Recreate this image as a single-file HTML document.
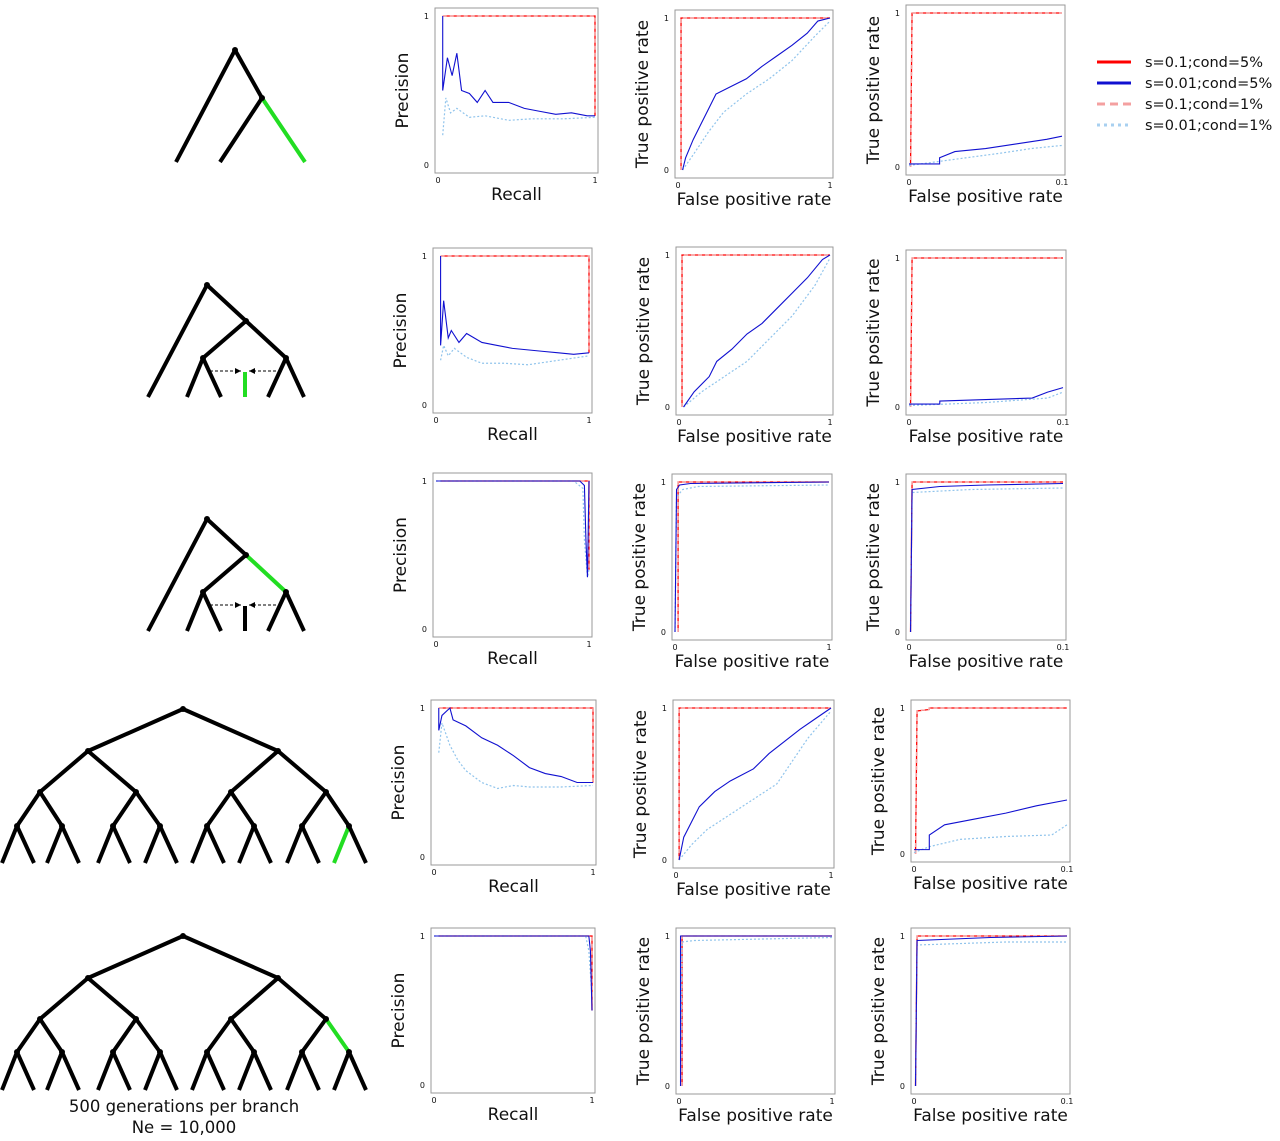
<!DOCTYPE html>
<html><head><meta charset="utf-8"><style>
body{margin:0;background:#fff;}
svg text{font-family:"DejaVu Sans","Liberation Sans",sans-serif;fill:#111;}
</style></head><body>
<svg id="fig" width="1280" height="1136" xmlns="http://www.w3.org/2000/svg">
<g id="trees" stroke="#000" stroke-width="4" fill="none"></g>
<g id="plots"></g>
<g id="legend">
 <g><line x1="1097" y1="62" x2="1131" y2="62" stroke="#ff0000" stroke-width="3"/><text x="1145" y="67" font-size="14.5">s=0.1;cond=5%</text></g>
 <g><line x1="1097" y1="83" x2="1131" y2="83" stroke="#1010d0" stroke-width="3"/><text x="1145" y="88" font-size="14.5">s=0.01;cond=5%</text></g>
 <g><line x1="1097" y1="104" x2="1131" y2="104" stroke="#f4a0a0" stroke-width="3" stroke-dasharray="8,5"/><text x="1145" y="109" font-size="14.5">s=0.1;cond=1%</text></g>
 <g><line x1="1097" y1="125" x2="1131" y2="125" stroke="#a8d0f0" stroke-width="3" stroke-dasharray="3,4"/><text x="1145" y="130" font-size="14.5">s=0.01;cond=1%</text></g>
</g>
<text x="184" y="1112" font-size="16.5" text-anchor="middle">500 generations per branch</text>
<text x="184" y="1133" font-size="16.5" text-anchor="middle">Ne = 10,000</text>
</svg>
<script>
// ---- data (per row) ----
const row1PrBlue=[[0.03,1],[0.03,0.5],[0.06,0.72],[0.09,0.6],[0.12,0.75],[0.15,0.5],[0.2,0.48],[0.25,0.42],[0.3,0.5],[0.35,0.42],[0.45,0.42],[0.55,0.38],[0.65,0.36],[0.75,0.34],[0.85,0.35],[0.95,0.33],[1,0.33]];
const row1PrLight=[[0.03,0.2],[0.05,0.45],[0.08,0.35],[0.12,0.38],[0.2,0.32],[0.3,0.33],[0.45,0.3],[0.6,0.31],[0.8,0.31],[1,0.32]];
const row1RocBlue=[[0.03,0],[0.05,0.08],[0.1,0.2],[0.15,0.3],[0.2,0.4],[0.25,0.5],[0.35,0.55],[0.45,0.6],[0.55,0.68],[0.65,0.75],[0.75,0.82],[0.85,0.9],[0.92,0.98],[1,1]];
const row1RocLight=[[0.03,0],[0.1,0.1],[0.2,0.25],[0.3,0.38],[0.45,0.5],[0.6,0.6],[0.75,0.72],[0.9,0.88],[1,0.98]];
const row1ZBlue=[[0,0.02],[0.02,0.02],[0.02,0.06],[0.03,0.1],[0.05,0.12],[0.07,0.15],[0.09,0.18],[0.1,0.2]];
const row1ZLight=[[0,0.01],[0.03,0.05],[0.06,0.09],[0.08,0.12],[0.1,0.14]];
const row2PrBlue=[[0.03,1],[0.03,0.4],[0.05,0.7],[0.08,0.45],[0.1,0.5],[0.15,0.42],[0.2,0.48],[0.3,0.42],[0.4,0.4],[0.5,0.38],[0.6,0.37],[0.7,0.36],[0.8,0.35],[0.9,0.34],[1,0.35]];
const row2PrLight=[[0.03,0.3],[0.05,0.4],[0.08,0.33],[0.12,0.38],[0.2,0.32],[0.3,0.28],[0.45,0.28],[0.6,0.27],[0.8,0.3],[1,0.33]];
const row2RocBlue=[[0.03,0],[0.1,0.1],[0.2,0.2],[0.25,0.3],[0.35,0.38],[0.45,0.48],[0.55,0.55],[0.65,0.65],[0.75,0.75],[0.85,0.85],[0.95,0.97],[1,1]];
const row2RocLight=[[0.03,0],[0.15,0.1],[0.3,0.2],[0.45,0.3],[0.6,0.45],[0.75,0.6],[0.9,0.8],[1,0.98]];
const row2ZBlue=[[0,0.02],[0.02,0.02],[0.02,0.04],[0.08,0.06],[0.09,0.1],[0.1,0.13]];
const row2ZLight=[[0,0.01],[0.05,0.03],[0.09,0.06],[0.1,0.1]];
const row3PrBlue=[[0,1],[0.94,1],[0.97,0.97],[0.98,0.6],[0.99,0.35],[1,1]];
const row3PrLight=[[0,1],[0.9,1],[0.96,0.95],[0.97,0.6],[0.99,0.35],[1,0.4]];
const row3RocBlue=[[0,0],[0.01,0.95],[0.03,0.98],[0.1,0.99],[1,1]];
const row3RocLight=[[0,0],[0.01,0.9],[0.05,0.95],[0.15,0.97],[1,0.98]];
const row3ZBlue=[[0.001,0],[0.002,0.95],[0.02,0.97],[0.05,0.98],[0.1,0.99]];
const row3ZLight=[[0.001,0],[0.002,0.93],[0.04,0.95],[0.1,0.96]];
const row4PrBlue=[[0.03,1],[0.03,0.85],[0.05,0.95],[0.1,1],[0.12,0.92],[0.2,0.88],[0.3,0.8],[0.4,0.75],[0.5,0.68],[0.6,0.6],[0.7,0.56],[0.8,0.54],[0.9,0.5],[1,0.5]];
const row4PrLight=[[0.03,0.7],[0.05,0.9],[0.1,0.75],[0.15,0.65],[0.2,0.58],[0.3,0.5],[0.4,0.46],[0.5,0.48],[0.6,0.47],[0.8,0.47],[1,0.48]];
const row4RocBlue=[[0.02,0],[0.05,0.15],[0.1,0.25],[0.15,0.35],[0.25,0.45],[0.35,0.52],[0.5,0.6],[0.6,0.7],[0.7,0.78],[0.8,0.86],[0.9,0.93],[1,1]];
const row4RocLight=[[0.02,0],[0.1,0.1],[0.2,0.2],[0.35,0.3],[0.5,0.4],[0.65,0.5],[0.75,0.65],[0.85,0.8],[1,0.98]];
const row4ZBlue=[[0,0.03],[0.01,0.03],[0.01,0.13],[0.02,0.2],[0.04,0.24],[0.06,0.28],[0.08,0.33],[0.1,0.37]];
const row4ZLight=[[0,0.01],[0.01,0.05],[0.03,0.1],[0.06,0.12],[0.09,0.13],[0.1,0.2]];
const row5PrBlue=[[0,1],[0.98,1],[0.99,0.9],[1,0.5]];
const row5PrLight=[[0,1],[0.96,1],[0.98,0.9],[1,0.6]];
const row5RocBlue=[[0.01,0],[0.01,1],[1,1]];
const row5RocLight=[[0.01,0],[0.02,0.96],[0.1,0.97],[1,0.99]];
const row5ZBlue=[[0.001,0],[0.002,0.97],[0.05,0.99],[0.1,1]];
const row5ZLight=[[0.001,0],[0.002,0.94],[0.06,0.96],[0.1,0.96]];
const prRedEnd=[0.33,0.35,0.4,0.5,0.5];
const rowsPr=[[row1PrBlue,row1PrLight],[row2PrBlue,row2PrLight],[row3PrBlue,row3PrLight],[row4PrBlue,row4PrLight],[row5PrBlue,row5PrLight]];
const rowsRoc=[[row1RocBlue,row1RocLight],[row2RocBlue,row2RocLight],[row3RocBlue,row3RocLight],[row4RocBlue,row4RocLight],[row5RocBlue,row5RocLight]];
const rowsZ=[[row1ZBlue,row1ZLight],[row2ZBlue,row2ZLight],[row3ZBlue,row3ZLight],[row4ZBlue,row4ZLight],[row5ZBlue,row5ZLight]];

// layout boxes [x0,y0,x1,y1]
const boxPr=[[435,8,598,173],[433,248,592,413],[433,473,592,637],[431,700,596,865],[431,928,595,1093]];
const boxRoc=[[675,10,833,178],[676,247,833,415],[672,474,832,640],[673,700,834,868],[676,928,835,1094]];
const boxZ=[[906,5,1065,175],[906,250,1066,415],[906,474,1066,640],[911,700,1070,862],[911,928,1070,1094]];
const NS='http://www.w3.org/2000/svg';
const plots=document.getElementById('plots');
function mk(tag,attrs,parent){const e=document.createElementNS(NS,tag);for(const k in attrs)e.setAttribute(k,attrs[k]);parent.appendChild(e);return e;}
function panel(b,xmax,xlab,ylab,xt,series,red,name){
  const g=mk('g',{},plots);
  
  
  const [x0,y0,x1,y1]=b;const p=3,pt=8;
  const sx=v=>x0+p+(v/xmax)*(x1-x0-2*p);
  const sy=v=>y1-pt-v*(y1-y0-2*pt);
  const fr=mk('rect',{x:x0,y:y0,width:x1-x0,height:y1-y0,fill:'#fff',stroke:'#999','stroke-width':1},g);
  
  
  const pts=a=>a.map(d=>sx(d[0])+','+sy(d[1])).join(' ');
  const r1=mk('polyline',{points:pts(red),fill:'none',stroke:'#ff0000','stroke-width':1.3},g);
  
  
  const r2=mk('polyline',{points:pts(red),fill:'none',stroke:'#f4a0a0','stroke-width':1.3,'stroke-dasharray':'4,3'},g);
  
  
  const l=mk('polyline',{points:pts(series[1]),fill:'none',stroke:'#90c4ec','stroke-width':1.2,'stroke-dasharray':'2,2'},g);
  
  
  const bl=mk('polyline',{points:pts(series[0]),fill:'none',stroke:'#1010d0','stroke-width':1.1},g);
  
  
  const t0=mk('text',{x:x0+p,y:y1+10,'font-size':8,'text-anchor':'middle'},g);t0.textContent='0';
  
  
  const t1=mk('text',{x:x1-p,y:y1+10,'font-size':8,'text-anchor':'middle'},g);t1.textContent=xt;
  
  
  const ty0=mk('text',{x:x0-6,y:sy(0)+3,'font-size':8,'text-anchor':'end'},g);ty0.textContent='0';
  
  
  const ty1=mk('text',{x:x0-6,y:sy(1)+3,'font-size':8,'text-anchor':'end'},g);ty1.textContent='1';
  
  
  const xl=mk('text',{x:(x0+x1)/2,y:y1+27,'font-size':17,'text-anchor':'middle'},g);xl.textContent=xlab;
  
  
  const cy=(y0+y1)/2,cx=x0-27;
  const yl=mk('text',{x:cx,y:cy,'font-size':17,'text-anchor':'middle',transform:`rotate(-90 ${cx} ${cy})`},g);yl.textContent=ylab;
  
  
}
for(let i=0;i<5;i++){
  panel(boxPr[i],1,'Recall','Precision','1',rowsPr[i],[[0.03,1],[1,1],[1,prRedEnd[i]]],'pr-plot-row'+(i+1));
  panel(boxRoc[i],1,'False positive rate','True positive rate','1',rowsRoc[i],[[0.02,0],[0.02,1],[1,1]],'roc-plot-row'+(i+1));
  panel(boxZ[i],0.1,'False positive rate','True positive rate','0.1',rowsZ[i],i===3?[[0.001,0],[0.002,0.98],[0.01,0.99],[0.01,1],[0.1,1]]:[[0.001,0],[0.002,1],[0.1,1]],'roc-zoom-plot-row'+(i+1));
}
// ---- trees ----
const T=document.getElementById('trees');
function seg(a,b,c,d,col){const e=mk('line',{x1:a,y1:b,x2:c,y2:d},T);if(col)e.setAttribute('stroke',col);return e;}
function dot(x,y){mk('circle',{cx:x,cy:y,r:3,fill:'#000',stroke:'none'},T);}
const G='#22dd22';
seg(235,50,176,162);seg(235,50,262,98);seg(262,98,220,162);seg(262,98,305,162,G);dot(235,50);dot(262,98);
function small(oy,greenMid){
  seg(207,oy,148,oy+112);seg(207,oy,246,oy+36);seg(246,oy+36,203,oy+73);seg(246,oy+36,286,oy+73,greenMid?G:null);
  seg(203,oy+73,187,oy+112);seg(203,oy+73,221,oy+112);seg(286,oy+73,268,oy+112);seg(286,oy+73,304,oy+112);
  seg(245,oy+87,245,oy+112,greenMid?null:G);
  mk('line',{x1:210,y1:oy+86,x2:241,y2:oy+86,'stroke-width':1,'stroke-dasharray':'3,2'},T);
  mk('line',{x1:281,y1:oy+86,x2:249,y2:oy+86,'stroke-width':1,'stroke-dasharray':'3,2'},T);
  mk('polygon',{points:`241,${oy+86} 235,${oy+83} 235,${oy+89}`,fill:'#000',stroke:'none'},T);
  mk('polygon',{points:`249,${oy+86} 255,${oy+83} 255,${oy+89}`,fill:'#000',stroke:'none'},T);
  [207,246,203,286].forEach((x,k)=>dot(x,oy+[0,36,73,73][k]));
}
small(285,false);small(519,true);
function big(oy,l3y,ly,gType){
  const l1=[88,278],l2=[40,136,231,326],l3=[17,62,113,160,207,254,302,349];
  const y1=oy+42,y2=oy+83;
  l1.forEach(x=>seg(183,oy,x,y1));
  l2.forEach((x,k)=>seg(l1[k>>1],y1,x,y2));
  l3.forEach((x,k)=>seg(l2[k>>1],y2,x,l3y,(gType===2&&k===7)?G:null));
  l3.forEach((x,k)=>{seg(x,l3y,x-15,ly,(gType===1&&k===7)?G:null);seg(x,l3y,x+17,ly);});
  dot(183,oy);l1.forEach(x=>dot(x,y1));l2.forEach(x=>dot(x,y2));l3.forEach(x=>dot(x,l3y));
}
big(709,826,863,1);big(936,1052,1090,2);
</script>
</body></html>
